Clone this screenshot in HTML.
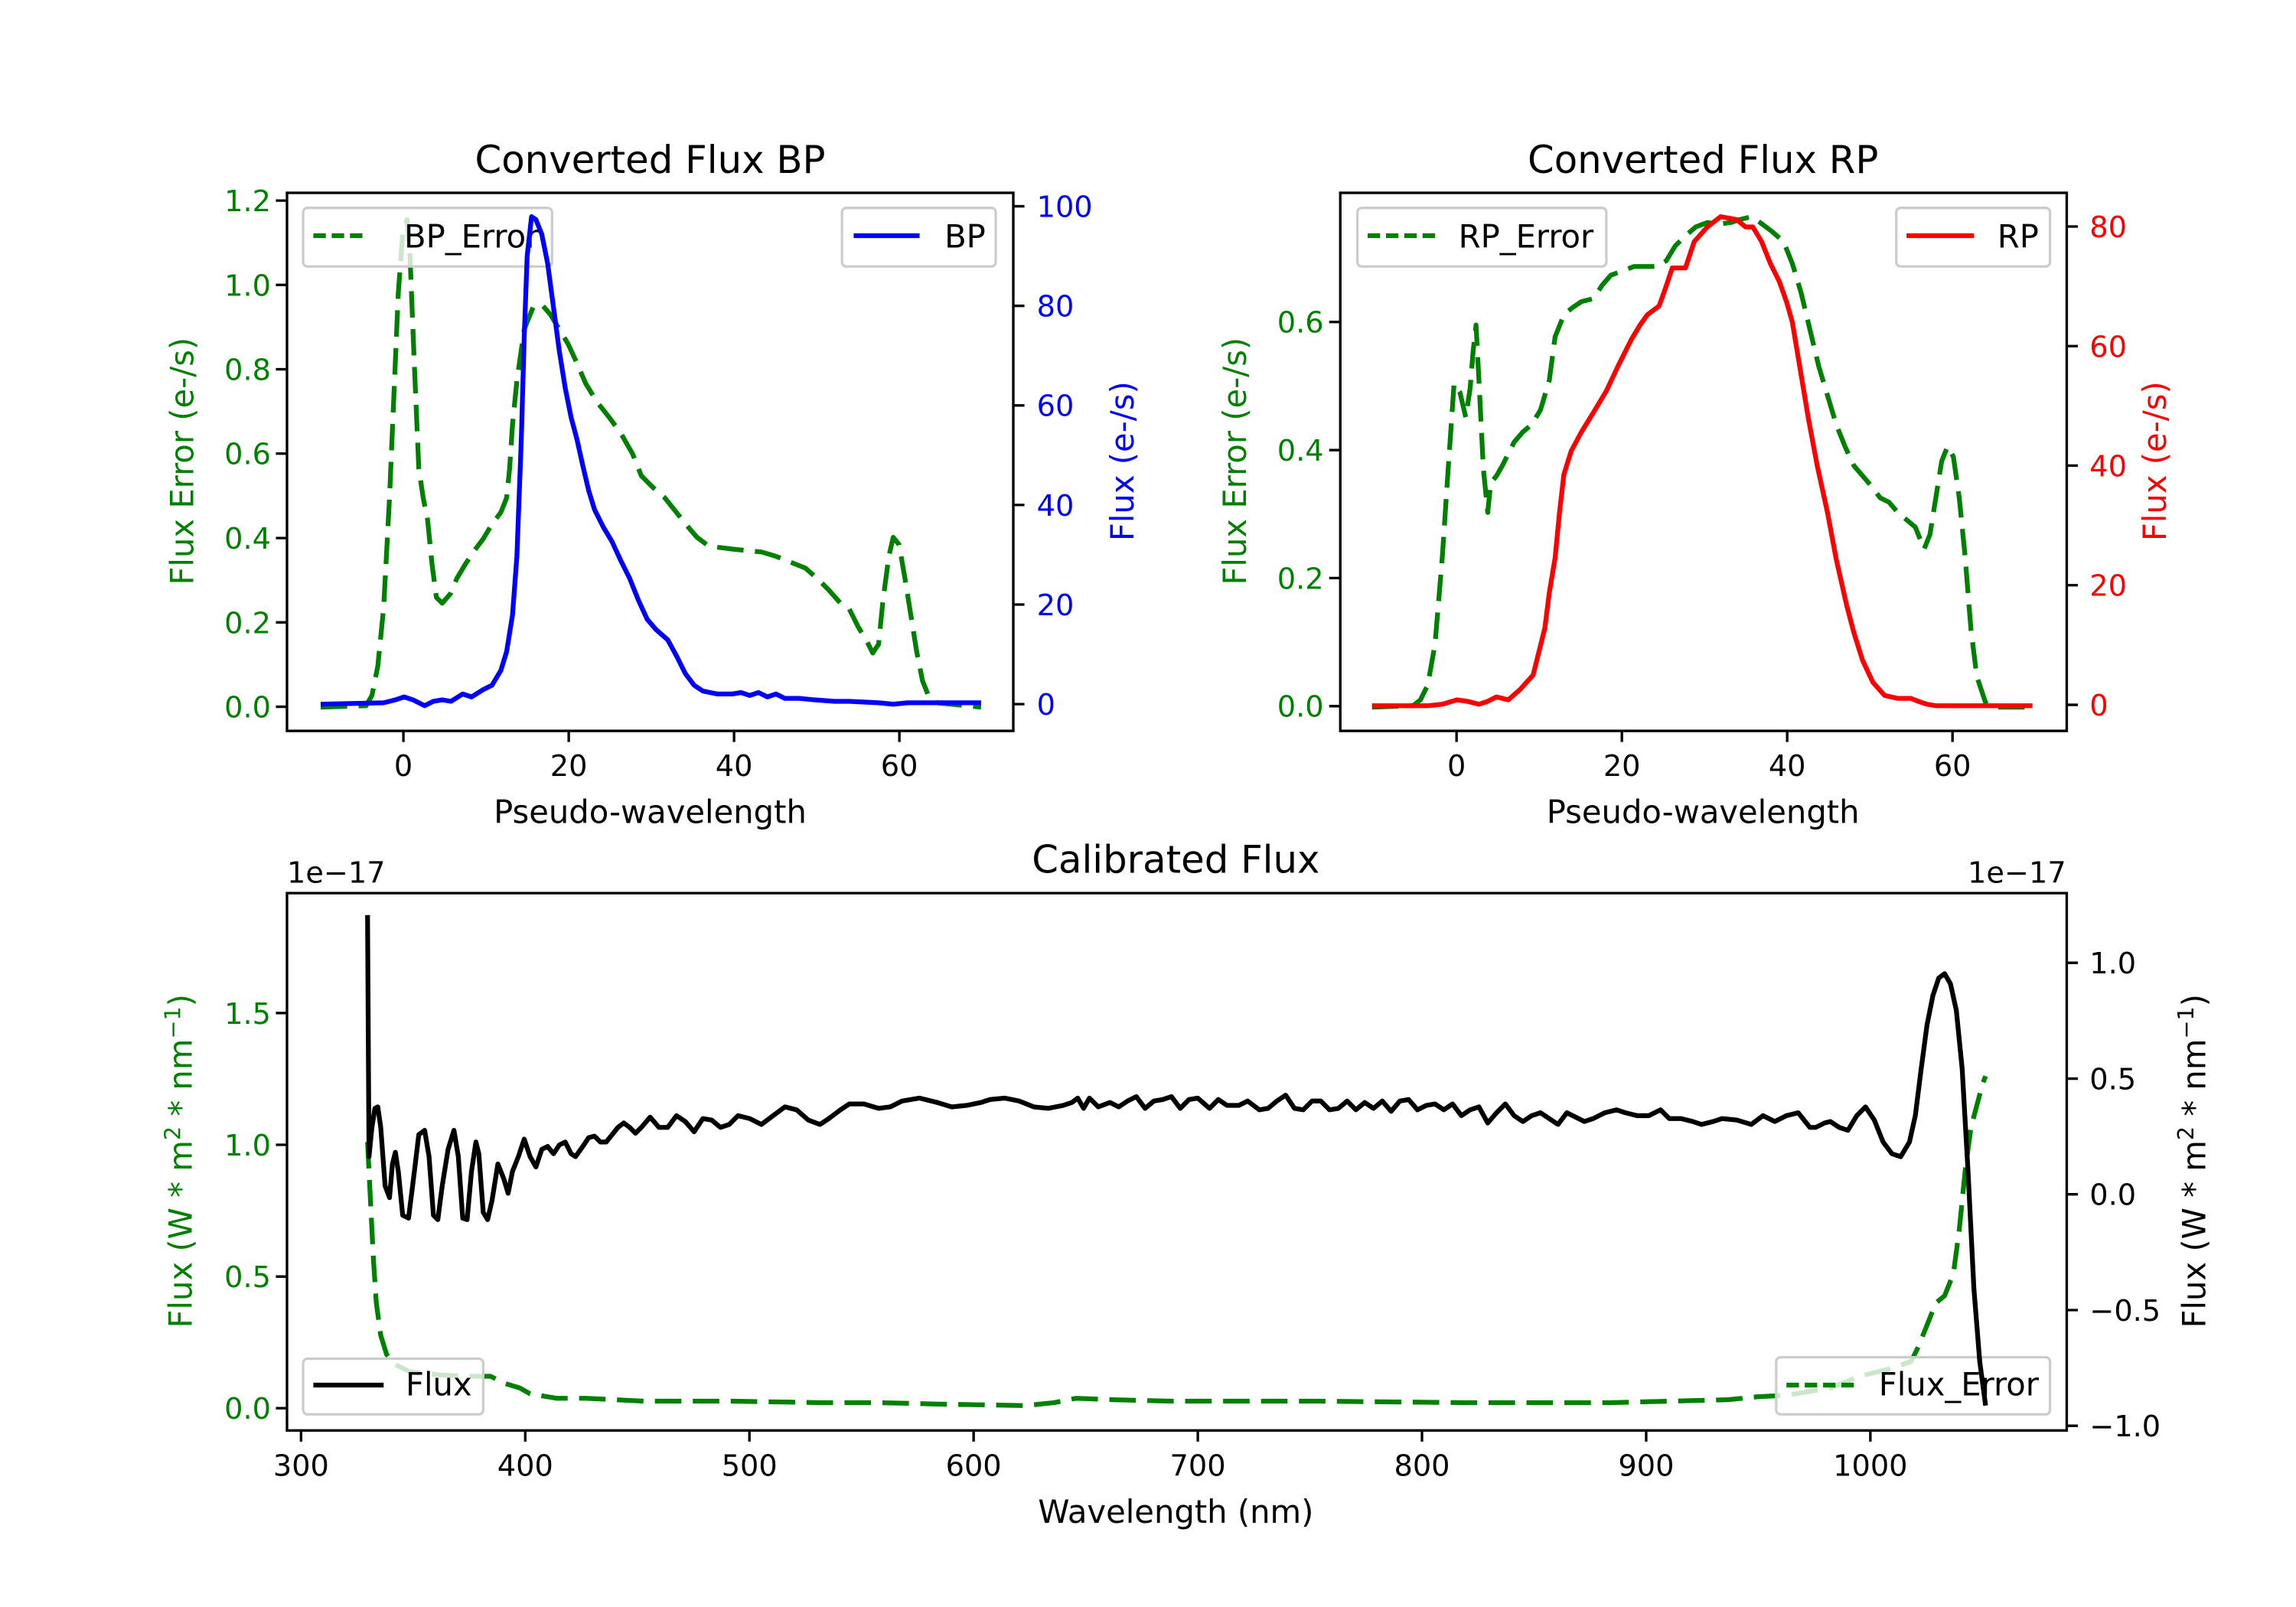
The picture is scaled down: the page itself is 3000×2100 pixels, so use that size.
<!DOCTYPE html>
<html><head><meta charset="utf-8"><style>html,body{margin:0;padding:0;background:#fff}svg{display:block}text{font-family:"DejaVu Sans","Liberation Sans",sans-serif}</style></head>
<body>
<svg width="3000" height="2100" viewBox="0 0 3000 2100" xmlns="http://www.w3.org/2000/svg">
<rect width="3000" height="2100" fill="#fff"/>
<g transform="scale(1.9133)">
<defs>
<clipPath id="c1"><rect x="196" y="131.7" width="496" height="367.5"/></clipPath>
<clipPath id="c2"><rect x="915.3" y="131.7" width="496.1" height="367.5"/></clipPath>
<clipPath id="c3"><rect x="196" y="610" width="1215.4" height="367"/></clipPath>
</defs>

<!-- ===== Axes 1 ===== -->
<g clip-path="url(#c1)" fill="none" stroke-width="3.27" stroke-linejoin="round">
<polyline stroke="#008000" stroke-dasharray="18.1,7.8" points="219,483 250,482 254,475 258,455 262,415 266,340 269,270 272,200 275,160 278,150 280,175 283,250 286,320 289,340 292,355 295,385 298,408 302,412 308,405 312,395 318,385 324,376 330,368 336,358 342,350 346,340 348,320 350,290 353,260 358,225 364,210 370,208 376,215 382,225 388,235 394,248 400,262 408,275 416,285 424,296 432,310 438,325 446,333 454,340 462,350 470,360 476,367 484,373 492,374 500,375 510,376 520,377 530,380 540,384 550,388 558,395 566,403 574,412 580,416 586,428 592,438 596,446 600,440 603,410 607,380 610,367 614,372 618,395 622,420 626,445 630,465 634,475 640,480 670,483"/>
</g>
<rect x="207" y="142" width="170" height="40" rx="3" fill="#fff" fill-opacity="0.8" stroke="#ccc" stroke-width="1.7"/>
<line x1="214" y1="161" x2="250" y2="161" stroke="#008000" stroke-width="3.27" stroke-dasharray="8.5,4"/>
<text x="276" y="169" font-size="21.8">BP_Error</text>
<g clip-path="url(#c1)" fill="none" stroke-width="3.27" stroke-linejoin="round">
<polyline stroke="#0000ff" points="219,481 262,480 270,478 276,476 282,478 290,482 296,479 302,478 308,479 316,474 322,476 330,471 336,468 342,458 346,445 350,420 353,380 356,300 358,230 360,175 363,148 366,150 370,160 374,180 378,210 382,240 386,265 390,285 394,300 398,318 402,335 406,348 412,360 418,370 424,383 430,395 436,410 442,423 448,430 456,437 462,448 468,460 474,468 480,472 490,474 500,474 506,473 512,475 518,473 524,476 530,474 536,477 546,477 556,478 570,479 580,479 600,480 610,481 620,480 670,480"/>
</g>
<rect x="575" y="142" width="105" height="40" rx="3" fill="#fff" fill-opacity="0.8" stroke="#ccc" stroke-width="1.7"/>
<line x1="583" y1="161" x2="628" y2="161" stroke="#0000ff" stroke-width="3.27"/>
<text x="645" y="169" font-size="21.8">BP</text>
<rect x="196" y="131.7" width="496" height="367.5" fill="none" stroke="#000" stroke-width="1.74"/>
<g stroke="#000" stroke-width="1.74">
<path d="M196 482.7h-7.6M196 425.1h-7.6M196 367.5h-7.6M196 309.8h-7.6M196 252.2h-7.6M196 194.6h-7.6M196 137h-7.6"/>
<path d="M692 480.9h7.6M692 412.9h7.6M692 344.9h7.6M692 276.9h7.6M692 208.9h7.6M692 140.9h7.6"/>
<path d="M275.5 499.2v7.6M388.4 499.2v7.6M501.3 499.2v7.6M614.2 499.2v7.6"/>
</g>
<g font-size="20" fill="#008000" text-anchor="end">
<text x="185" y="490">0.0</text><text x="185" y="432.4">0.2</text><text x="185" y="374.8">0.4</text><text x="185" y="317.1">0.6</text><text x="185" y="259.5">0.8</text><text x="185" y="201.9">1.0</text><text x="185" y="144.3">1.2</text>
</g>
<g font-size="20" fill="#0000ff">
<text x="708" y="488.2">0</text><text x="708" y="420.2">20</text><text x="708" y="352.2">40</text><text x="708" y="284.2">60</text><text x="708" y="216.2">80</text><text x="708" y="148.2">100</text>
</g>
<g font-size="20" text-anchor="middle">
<text x="275.5" y="530">0</text><text x="388.4" y="530">20</text><text x="501.3" y="530">40</text><text x="614.2" y="530">60</text>
</g>
<text x="444" y="562" font-size="21.8" text-anchor="middle">Pseudo-wavelength</text>
<text x="444" y="118" font-size="26" text-anchor="middle">Converted Flux BP</text>
<text transform="translate(132,315) rotate(-90)" font-size="21.8" fill="#008000" text-anchor="middle">Flux Error (e-/s)</text>
<text transform="translate(774,315) rotate(-90)" font-size="21.8" fill="#0000ff" text-anchor="middle">Flux (e-/s)</text>

<!-- ===== Axes 2 ===== -->
<g clip-path="url(#c2)" fill="none" stroke-width="3.27" stroke-linejoin="round">
<polyline stroke="#008000" stroke-dasharray="18.1,7.8" points="937,483 965,482 970,478 975,468 980,440 985,380 989,320 993,262 997,268 1001,285 1004,265 1006,240 1008,222 1010,260 1013,320 1016,350 1018,330 1022,325 1026,318 1030,310 1034,302 1040,295 1046,290 1052,280 1058,260 1062,230 1068,215 1074,210 1080,206 1088,204 1094,195 1100,188 1108,185 1116,182 1124,182 1132,182 1138,178 1144,168 1150,162 1158,155 1166,152 1174,153 1182,152 1188,150 1196,148 1202,152 1210,158 1218,165 1224,180 1230,200 1236,225 1242,250 1248,270 1254,290 1260,305 1266,318 1272,325 1278,332 1284,340 1290,343 1296,350 1302,355 1308,360 1314,375 1318,365 1322,340 1326,315 1330,305 1334,312 1338,340 1342,380 1346,430 1350,462 1356,480 1362,483 1388,483"/>
</g>
<rect x="927" y="142" width="170" height="40" rx="3" fill="#fff" fill-opacity="0.8" stroke="#ccc" stroke-width="1.7"/>
<line x1="934" y1="161" x2="980" y2="161" stroke="#008000" stroke-width="3.27" stroke-dasharray="8.5,4"/>
<text x="996" y="169" font-size="21.8">RP_Error</text>
<g clip-path="url(#c2)" fill="none" stroke-width="3.27" stroke-linejoin="round">
<polyline stroke="#ff0000" points="937,482 975,482 985,481 995,478 1002,479 1010,481 1016,479 1022,476 1030,478 1038,471 1047,461 1051,445 1055,429 1058,405 1062,381 1065,350 1068,324 1073,308 1080,295 1088,282 1097,267 1105,250 1114,232 1120,222 1125,215 1133,209 1138,195 1142,183 1151,183 1157,165 1166,155 1175,148 1186,150 1192,155 1197,155 1203,165 1209,180 1215,192 1220,206 1224,220 1227,238 1231,262 1235,286 1241,318 1248,350 1254,382 1261,413 1266,432 1272,451 1279,466 1287,475 1296,477 1305,477 1310,479 1316,481 1322,482 1388,482"/>
</g>
<rect x="1295" y="142" width="105" height="40" rx="3" fill="#fff" fill-opacity="0.8" stroke="#ccc" stroke-width="1.7"/>
<line x1="1302" y1="161" x2="1348" y2="161" stroke="#ff0000" stroke-width="3.27"/>
<text x="1364" y="169" font-size="21.8">RP</text>
<rect x="915.3" y="131.7" width="496.1" height="367.5" fill="none" stroke="#000" stroke-width="1.74"/>
<g stroke="#000" stroke-width="1.74">
<path d="M915.3 482.3h-7.6M915.3 394.8h-7.6M915.3 307.4h-7.6M915.3 219.9h-7.6"/>
<path d="M1411.4 481.4h7.6M1411.4 399.7h7.6M1411.4 318h7.6M1411.4 236.4h7.6M1411.4 154.7h7.6"/>
<path d="M994.7 499.2v7.6M1107.6 499.2v7.6M1220.5 499.2v7.6M1333.4 499.2v7.6"/>
</g>
<g font-size="20" fill="#008000" text-anchor="end">
<text x="904" y="489.6">0.0</text><text x="904" y="402.1">0.2</text><text x="904" y="314.7">0.4</text><text x="904" y="227.2">0.6</text>
</g>
<g font-size="20" fill="#ff0000">
<text x="1427" y="488.7">0</text><text x="1427" y="407">20</text><text x="1427" y="325.3">40</text><text x="1427" y="243.7">60</text><text x="1427" y="162">80</text>
</g>
<g font-size="20" text-anchor="middle">
<text x="994.7" y="530">0</text><text x="1107.6" y="530">20</text><text x="1220.5" y="530">40</text><text x="1333.4" y="530">60</text>
</g>
<text x="1163" y="562" font-size="21.8" text-anchor="middle">Pseudo-wavelength</text>
<text x="1163" y="118" font-size="26" text-anchor="middle">Converted Flux RP</text>
<text transform="translate(851,315) rotate(-90)" font-size="21.8" fill="#008000" text-anchor="middle">Flux Error (e-/s)</text>
<text transform="translate(1479,315) rotate(-90)" font-size="21.8" fill="#ff0000" text-anchor="middle">Flux (e-/s)</text>

<!-- ===== Axes 3 ===== -->
<g clip-path="url(#c3)" fill="none" stroke-width="3.27" stroke-linejoin="round">
<polyline stroke="#008000" stroke-dasharray="18.1,7.8" points="251,780 253,820 255,860 257,890 260,912 264,925 270,932 280,937 300,939 320,940 335,940 345,945 355,948 362,952 380,955 400,955 420,956 440,957 500,957 560,958 600,958 640,959 700,960 720,958 735,955 760,956 800,957 900,957 1000,958 1100,958 1140,957 1180,956 1200,954 1220,953 1250,948 1270,940 1290,935 1305,930 1310,920 1316,905 1322,890 1328,885 1334,870 1338,840 1342,800 1346,770 1350,755 1354,740 1356,735"/>
</g>
<rect x="1213" y="927" width="187" height="39" rx="3" fill="#fff" fill-opacity="0.8" stroke="#ccc" stroke-width="1.7"/>
<line x1="1220" y1="946" x2="1268" y2="946" stroke="#008000" stroke-width="3.27" stroke-dasharray="8.5,4"/>
<text x="1283" y="953" font-size="21.8">Flux_Error</text>
<g clip-path="url(#c3)" fill="none" stroke-width="3.27" stroke-linejoin="round">
<polyline stroke="#000" points="251,625 252,790 254,770 256,757 258,756 260,770 263,810 266,818 268,795 270,787 272,800 275,830 279,832 283,800 286,775 290,772 293,790 296,830 299,833 302,810 306,785 310,772 313,790 316,832 319,833 322,800 325,780 327,788 330,828 333,833 336,820 340,795 344,805 347,815 350,800 354,790 358,778 362,790 366,797 370,785 374,783 378,788 382,782 386,780 390,788 393,790 398,783 402,777 406,776 410,780 414,780 418,775 422,770 426,767 430,770 434,774 438,770 444,763 450,770 456,770 462,762 468,766 474,773 480,764 486,765 492,770 498,768 504,762 512,764 520,768 528,762 536,756 544,758 552,765 560,768 566,764 574,758 580,754 590,754 600,757 608,756 616,752 628,750 640,753 650,756 660,755 670,753 676,751 686,750 696,752 706,756 716,757 726,755 732,753 736,750 740,757 744,750 750,756 758,753 764,756 770,752 776,749 782,757 788,752 794,751 800,749 806,757 812,751 818,750 826,757 832,751 838,755 846,755 852,752 860,758 866,757 872,752 878,748 884,757 890,758 896,752 902,752 908,758 914,757 920,752 926,758 932,753 938,757 944,752 950,759 956,752 962,751 968,758 974,755 980,754 986,758 992,754 998,762 1004,758 1010,756 1016,767 1022,760 1028,754 1034,762 1040,766 1046,762 1052,760 1058,764 1064,768 1070,760 1076,763 1082,766 1088,764 1096,760 1104,758 1110,760 1118,762 1126,762 1134,758 1140,764 1148,764 1156,766 1162,768 1170,766 1176,764 1186,765 1196,768 1204,762 1212,766 1220,762 1228,760 1236,770 1240,770 1246,767 1250,766 1256,770 1262,772 1268,762 1274,756 1280,765 1286,780 1292,788 1298,790 1304,780 1308,762 1312,730 1316,700 1320,680 1324,668 1328,665 1332,672 1336,690 1340,730 1344,800 1348,880 1352,930 1356,960"/>
</g>
<rect x="207" y="928" width="123" height="38" rx="3" fill="#fff" fill-opacity="0.8" stroke="#ccc" stroke-width="1.7"/>
<line x1="214" y1="946" x2="262" y2="946" stroke="#000" stroke-width="3.27"/>
<text x="277" y="953" font-size="21.8">Flux</text>
<rect x="196" y="610" width="1215.4" height="367" fill="none" stroke="#000" stroke-width="1.74"/>
<g stroke="#000" stroke-width="1.74">
<path d="M196 961.8h-7.6M196 871.9h-7.6M196 781.9h-7.6M196 691.9h-7.6"/>
<path d="M1411.4 973.8h7.6M1411.4 894.8h7.6M1411.4 815.7h7.6M1411.4 736.7h7.6M1411.4 657.6h7.6"/>
<path d="M205.6 977v7.6M358.7 977v7.6M511.8 977v7.6M664.9 977v7.6M818 977v7.6M971.1 977v7.6M1124.2 977v7.6M1277.3 977v7.6"/>
</g>
<g font-size="20" fill="#008000" text-anchor="end">
<text x="185" y="969.1">0.0</text><text x="185" y="879.2">0.5</text><text x="185" y="789.2">1.0</text><text x="185" y="699.2">1.5</text>
</g>
<g font-size="20">
<text x="1427" y="981.1">−1.0</text><text x="1427" y="902.1">−0.5</text><text x="1427" y="823">0.0</text><text x="1427" y="744">0.5</text><text x="1427" y="664.9">1.0</text>
</g>
<g font-size="20" text-anchor="middle">
<text x="205.6" y="1008">300</text><text x="358.7" y="1008">400</text><text x="511.8" y="1008">500</text><text x="664.9" y="1008">600</text><text x="818" y="1008">700</text><text x="971.1" y="1008">800</text><text x="1124.2" y="1008">900</text><text x="1277.3" y="1008">1000</text>
</g>
<text x="196" y="603" font-size="20">1e−17</text>
<text x="1411" y="603" font-size="20" text-anchor="end">1e−17</text>
<text x="803" y="1040" font-size="21.8" text-anchor="middle">Wavelength (nm)</text>
<text x="803" y="596" font-size="26" text-anchor="middle">Calibrated Flux</text>
<text transform="translate(131,793) rotate(-90)" font-size="21.8" fill="#008000" text-anchor="middle">Flux (W * m<tspan font-size="15" dy="-8">2</tspan><tspan dy="8"> * nm</tspan><tspan font-size="15" dy="-8">−1</tspan><tspan dy="8">)</tspan></text>
<text transform="translate(1506,793) rotate(-90)" font-size="21.8" fill="#000" text-anchor="middle">Flux (W * m<tspan font-size="15" dy="-8">2</tspan><tspan dy="8"> * nm</tspan><tspan font-size="15" dy="-8">−1</tspan><tspan dy="8">)</tspan></text>
</g>
</svg>
</body></html>
